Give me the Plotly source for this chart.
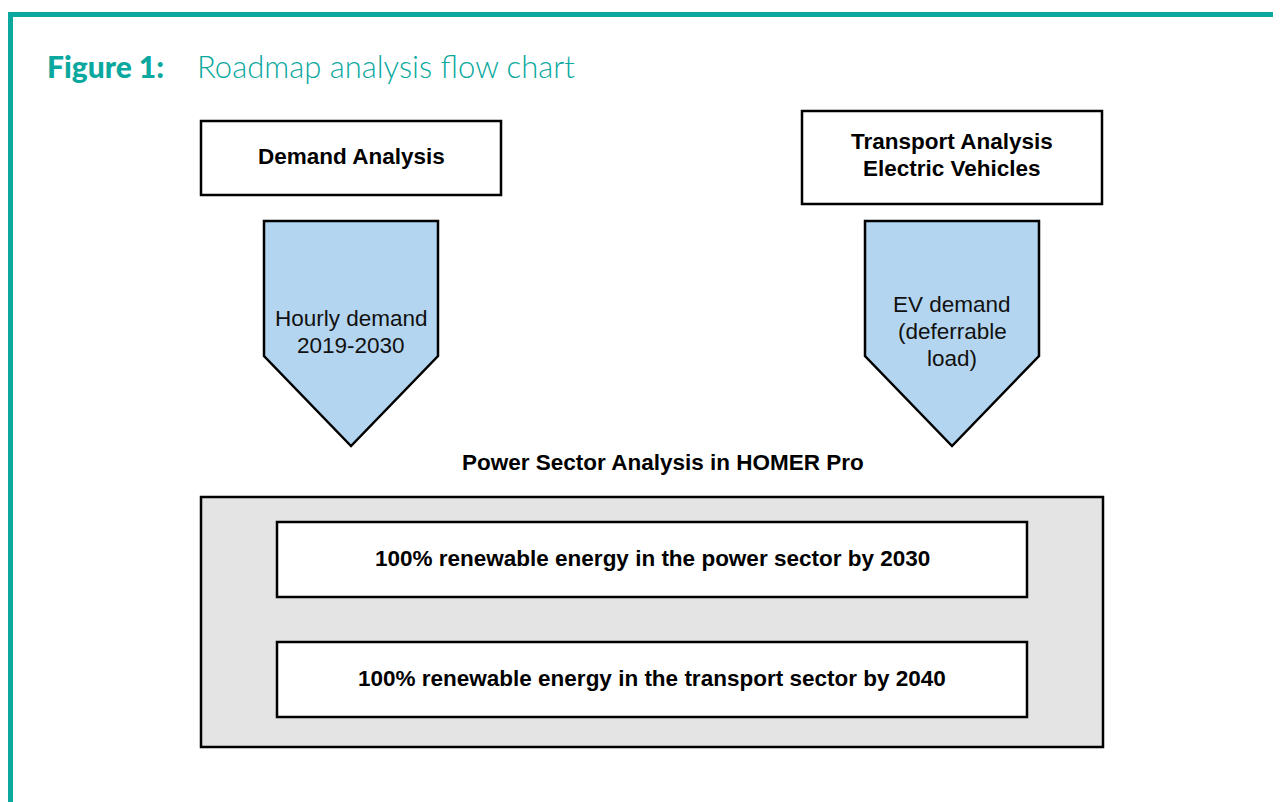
import plotly.graph_objects as go

W, H = 1281, 802
OFF = 8  # page body margin compensation
TEAL = "#0aa89e"
BLUE = "#b4d5ef"
GRAY = "#e4e4e4"

title_bold = "Figure 1:"
title_text = "Roadmap analysis flow chart"
source_labels = [["Demand Analysis"], ["Transport Analysis", "Electric Vehicles"]]
arrow_labels = [["Hourly demand", "2019-2030"], ["EV demand", "(deferrable", "load)"]]
group_label = "Power Sector Analysis in HOMER Pro"
target_labels = [
    "100% renewable energy in the power sector by 2030",
    "100% renewable energy in the transport sector by 2040",
]

def X(v):
    return v - OFF

def Y(v):
    return v - OFF

FS = 22.5
LH = 27
FONT = "Liberation Sans, Arial"

fig = go.Figure()
shapes = []
annotations = []


def add_lines(xc, yc, lines, bold, color="black"):
    n = len(lines)
    for i, ln in enumerate(lines):
        y = yc + (i - (n - 1) / 2) * LH
        annotations.append(dict(x=X(xc), y=Y(y), text=("<b>" + ln + "</b>") if bold else ln,
                                showarrow=False, xanchor="center", yanchor="middle",
                                font=dict(family=FONT, size=FS, color=color)))


# teal frame
shapes.append(dict(type="line", x0=X(8), x1=X(W + 10), y0=Y(14.5), y1=Y(14.5),
                   line=dict(color=TEAL, width=5)))
shapes.append(dict(type="line", x0=X(10.5), x1=X(10.5), y0=Y(12), y1=Y(H + 10),
                   line=dict(color=TEAL, width=5)))

# title
annotations.append(dict(x=X(45), y=Y(66), text=title_bold, showarrow=False,
                        xanchor="left", yanchor="middle",
                        font=dict(family="Lato", size=30, color=TEAL, weight=900)))
annotations.append(dict(x=X(195), y=Y(66), text=title_text, showarrow=False,
                        xanchor="left", yanchor="middle",
                        font=dict(family="Lato", size=31, color=TEAL, weight=300)))

# source boxes
src_boxes = [(201, 501, 121, 195), (802, 1102, 111, 204)]
for (x0, x1, y0, y1), lab, yc in zip(src_boxes, source_labels, [156.5, 154.5]):
    shapes.append(dict(type="rect", x0=X(x0), x1=X(x1), y0=Y(y0), y1=Y(y1),
                       fillcolor="white", line=dict(color="black", width=2.5)))
    add_lines((x0 + x1) / 2, yc, lab, True)

# pentagon arrows
arrows = [(264, 438, 221, 356, 446), (865, 1039, 221, 356, 446)]
for (x0, x1, yt, ys, yb) in arrows:
    xm = (x0 + x1) / 2
    path = (f"M {X(x0)},{Y(yt)} L {X(x1)},{Y(yt)} L {X(x1)},{Y(ys)} "
            f"L {X(xm)},{Y(yb)} L {X(x0)},{Y(ys)} Z")
    shapes.append(dict(type="path", path=path, fillcolor=BLUE,
                       line=dict(color="black", width=2.5)))
for (x0, x1, yt, ys, yb), lab, yc in zip(arrows, arrow_labels, [331.5, 331]):
    add_lines((x0 + x1) / 2, yc, lab, False, color="#111")

# group label
annotations.append(dict(x=X(663), y=Y(462), text="<b>" + group_label + "</b>", showarrow=False,
                        xanchor="center", yanchor="middle",
                        font=dict(family=FONT, size=FS, color="black")))

# gray container
shapes.append(dict(type="rect", x0=X(201), x1=X(1103), y0=Y(497), y1=Y(747),
                   fillcolor=GRAY, line=dict(color="black", width=2.5)))

tgt_boxes = [(277, 1027, 522, 597), (277, 1027, 642, 717)]
for (x0, x1, y0, y1), lab in zip(tgt_boxes, target_labels):
    shapes.append(dict(type="rect", x0=X(x0), x1=X(x1), y0=Y(y0), y1=Y(y1),
                       fillcolor="white", line=dict(color="black", width=2.5)))
    add_lines((x0 + x1) / 2, (y0 + y1) / 2 - 1, [lab], True)

fig.update_layout(
    width=W, height=H,
    margin=dict(l=0, r=0, t=0, b=0),
    paper_bgcolor="white", plot_bgcolor="white",
    xaxis=dict(range=[0, W], visible=False, fixedrange=True),
    yaxis=dict(range=[H, 0], visible=False, fixedrange=True),
    shapes=shapes, annotations=annotations,
    showlegend=False,
)
fig.write_html("out.html")
